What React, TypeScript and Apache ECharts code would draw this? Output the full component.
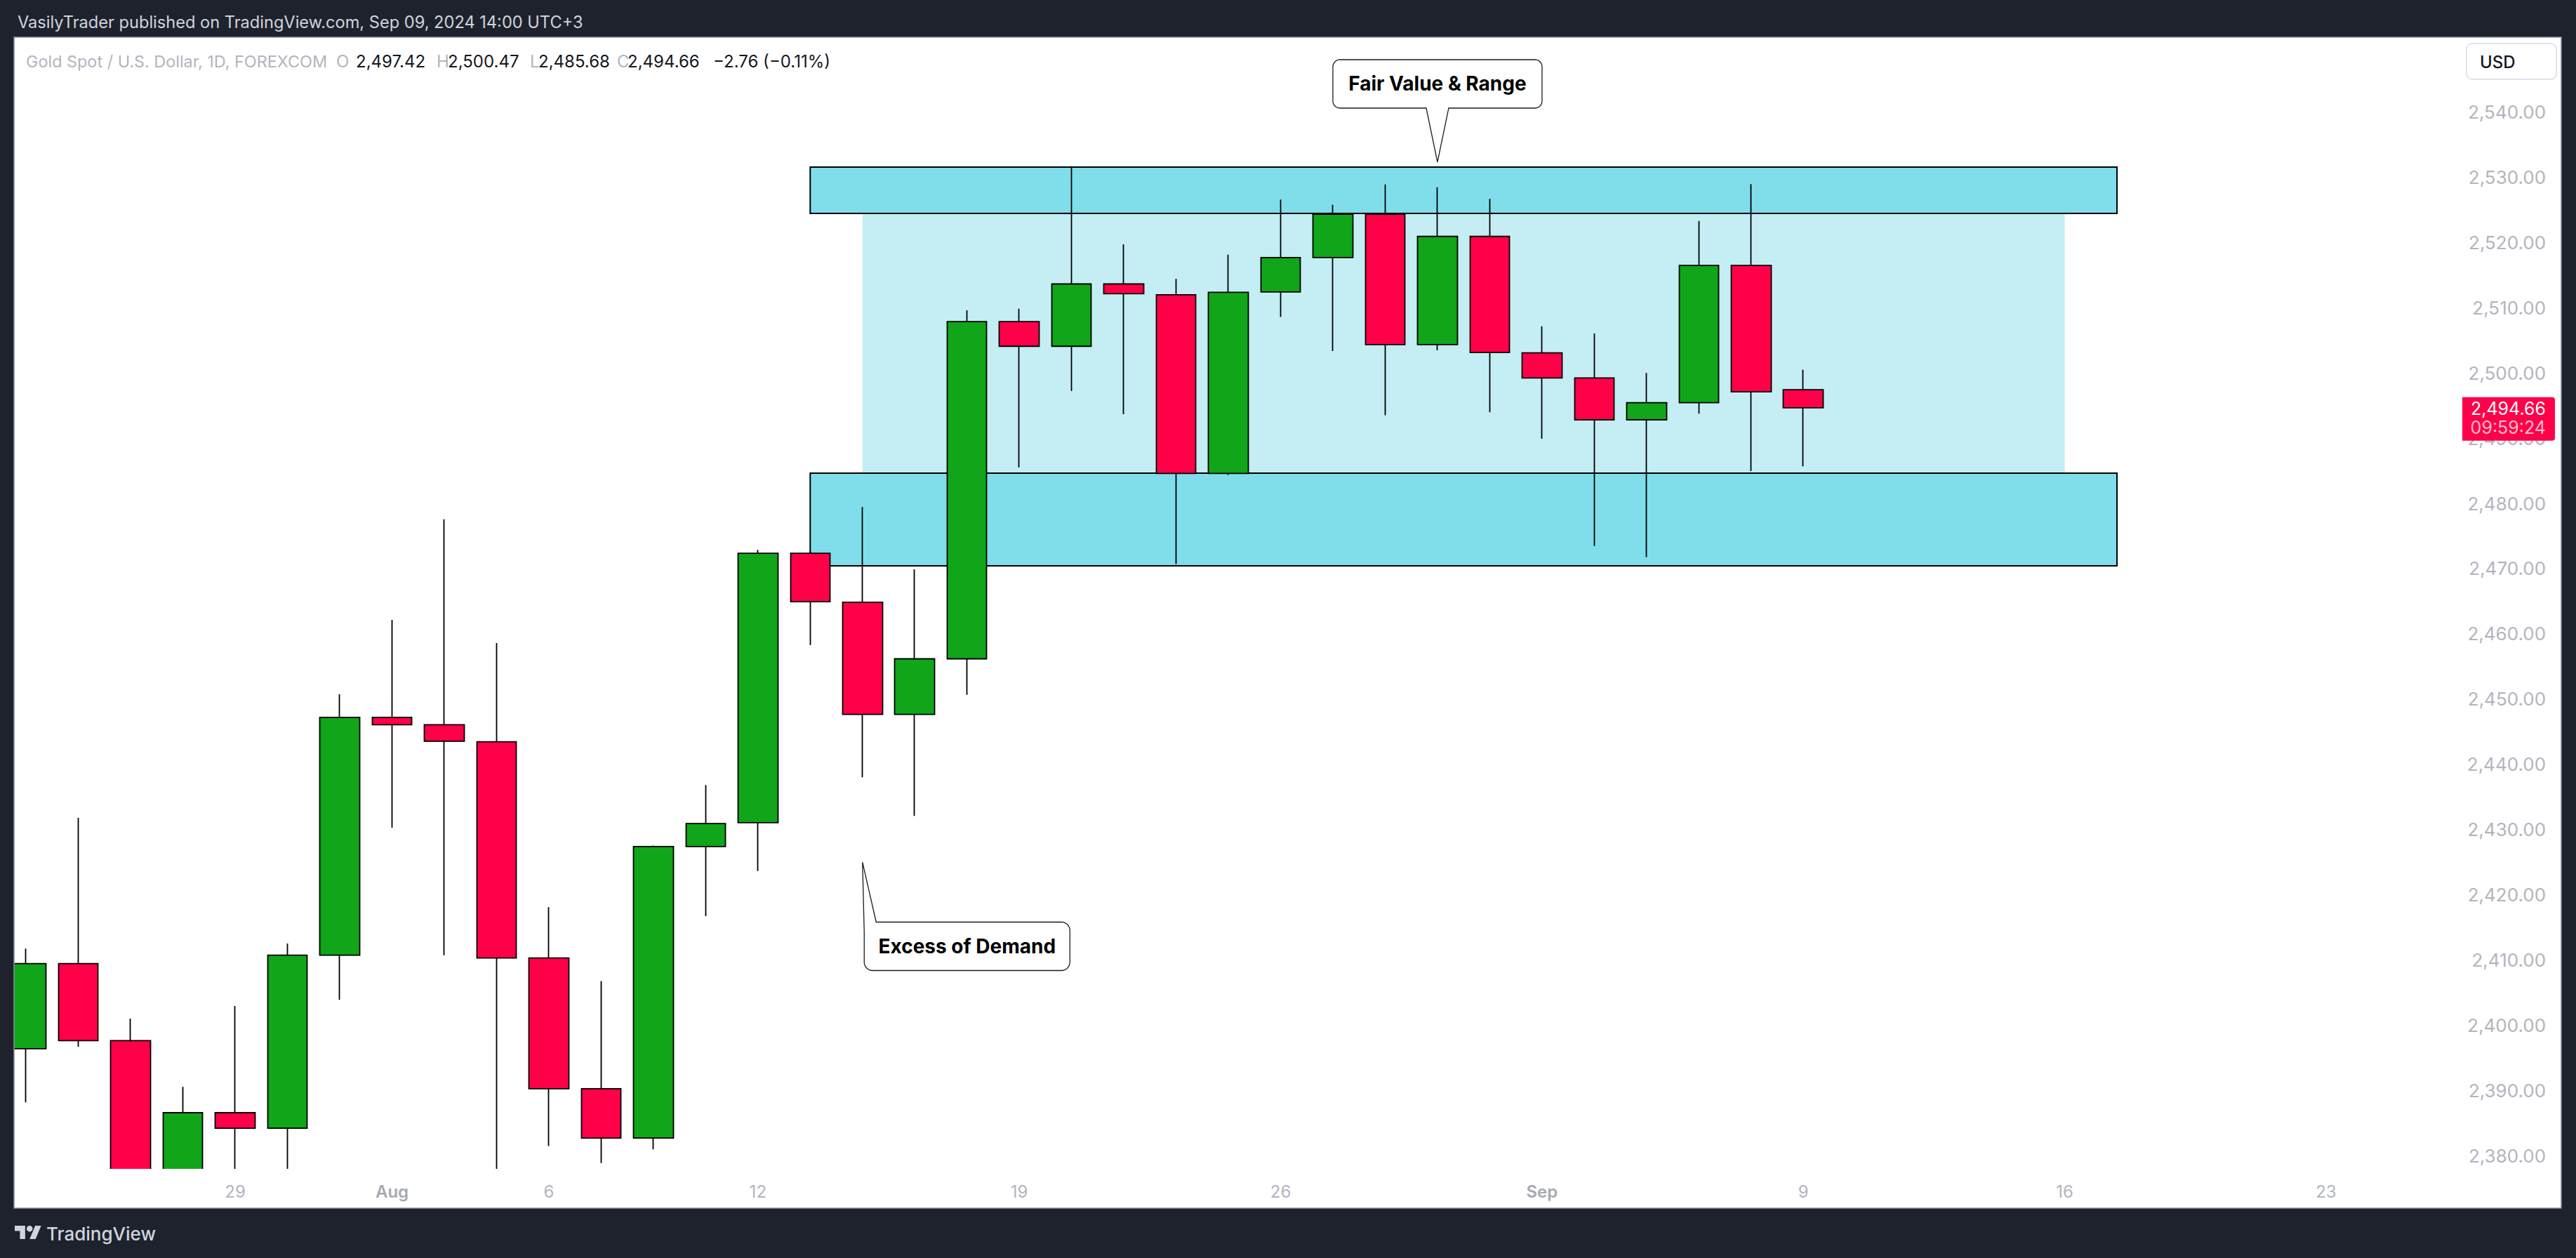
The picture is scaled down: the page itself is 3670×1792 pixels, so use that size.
import React, { useEffect, useRef } from 'react';
import * as echarts from 'echarts';

// ---------- data ----------
const dates = [
  '2024-07-23', '2024-07-24', '2024-07-25', '2024-07-26', '2024-07-29', '2024-07-30', '2024-07-31',
  '2024-08-01', '2024-08-02', '2024-08-05', '2024-08-06', '2024-08-07', '2024-08-08', '2024-08-09',
  '2024-08-12', '2024-08-13', '2024-08-14', '2024-08-15', '2024-08-16', '2024-08-19', '2024-08-20',
  '2024-08-21', '2024-08-22', '2024-08-23', '2024-08-26', '2024-08-27', '2024-08-28', '2024-08-29',
  '2024-08-30', '2024-09-02', '2024-09-03', '2024-09-04', '2024-09-05', '2024-09-06', '2024-09-09',
  '2024-09-10', '2024-09-11', '2024-09-12', '2024-09-13', '2024-09-16', '2024-09-17', '2024-09-18',
  '2024-09-19', '2024-09-20', '2024-09-23', '2024-09-24', '2024-09-25',
];
const opens = [
  2396.41, 2409.45, 2397.64, 2364.6, 2386.61, 2384.23, 2410.75, 2447.21, 2446.06, 2443.47, 2410.32,
  2390.29, 2382.72, 2427.4, 2431.07, 2472.35, 2464.85, 2447.65, 2456.17, 2507.86, 2504.08, 2513.63,
  2511.97, 2484.58, 2512.41, 2517.68, 2524.32, 2504.34, 2520.92, 2503.07, 2499.23, 2492.81, 2495.44,
  2516.47, 2497.42,
];
const closes = [
  2409.45, 2397.64, 2364.6, 2386.61, 2384.23, 2410.75, 2447.21, 2446.06, 2443.54, 2410.32, 2390.29,
  2382.72, 2427.4, 2430.93, 2472.36, 2464.93, 2447.65, 2456.17, 2507.86, 2504.08, 2513.63, 2512.13,
  2484.58, 2512.35, 2517.68, 2524.32, 2504.34, 2520.92, 2503.13, 2499.23, 2492.81, 2495.44, 2516.47,
  2497.09, 2494.66,
];
const highs = [
  2411.76, 2431.79, 2401.02, 2390.57, 2402.97, 2412.55, 2450.75, 2462.13, 2477.55, 2458.6, 2418.1,
  2406.79, 2427.54, 2436.84, 2472.87, 2472.6, 2479.45, 2469.9, 2509.6, 2509.84, 2531.54, 2519.7,
  2514.42, 2518.12, 2526.57, 2525.75, 2528.88, 2528.44, 2526.68, 2507.14, 2506.04, 2500.0, 2523.28,
  2528.93, 2500.47,
];
const lows = [
  2388.2, 2396.7, 2353.5, 2353.6, 2376.5, 2377.0, 2403.91, 2430.28, 2410.75, 2364.5, 2381.49,
  2378.9, 2380.99, 2416.73, 2423.65, 2458.3, 2438.02, 2432.1, 2450.65, 2485.53, 2497.21, 2493.66,
  2470.69, 2484.35, 2508.57, 2503.35, 2493.52, 2503.46, 2493.96, 2489.9, 2473.48, 2471.78, 2493.74,
  2484.96, 2485.68,
];
const xTickDates = [
  '2024-07-29', '2024-08-01', '2024-08-06', '2024-08-12', '2024-08-19',
  '2024-08-26', '2024-09-02', '2024-09-09', '2024-09-16', '2024-09-23',
];
const xTickLabels = ['29', 'Aug', '6', '12', '19', '26', 'Sep', '9', '16', '23'];
const yMin = 2378;
const yMax = 2551.45;
const yLabelLow = 2380;
const yLabelHigh = 2540;

const boxStart = '2024-08-13';
const boxEnd = '2024-09-17';
const fillStart = '2024-08-14';
const fillEnd = '2024-09-16';
const upperBox = [2524.44, 2531.54];
const lowerBox = [2470.42, 2484.63];

const lastPrice = 2494.66;
const countdown = '09:59:24';
const fairValueTip: [string, number] = ['2024-08-29', 2532.3];
const excessTip: [string, number] = ['2024-08-14', 2425.0];

const headerTitle = 'VasilyTrader published on TradingView.com, Sep 09, 2024 14:00 UTC+3';
const symbolTitle = 'Gold Spot / U.S. Dollar, 1D, FOREXCOM';
const ohlcLabels = ['O', 'H', 'L', 'C'];
const ohlcValues = ['2,497.42', '2,500.47', '2,485.68', '2,494.66'];
const changeText = '\u22122.76 (\u22120.11%)';

// ---------- layout / style ----------
const W = 3670;
const H = 1792;
const FONT = 'Inter, "Noto Sans", sans-serif';
const DARK = '#1e222d';
const UP = '#11a51a';
const DOWN = '#ff0049';
const AXIS_GRAY = '#b2b5be';
const PLOT_BOTTOM = 1665;

const fmtPrice = (v: number) =>
  v.toLocaleString('en-US', { minimumFractionDigits: 2, maximumFractionDigits: 2 });

function arcPts(cx: number, cy: number, r: number, a0: number, a1: number, n = 8) {
  const pts: number[][] = [];
  for (let i = 0; i <= n; i++) {
    const a = ((a0 + ((a1 - a0) * i) / n) * Math.PI) / 180;
    pts.push([cx + r * Math.cos(a), cy + r * Math.sin(a)]);
  }
  return pts;
}

let logoRegistered = false;

export default function App() {
  const ref = useRef<HTMLDivElement>(null);

  useEffect(() => {
    if (!logoRegistered) {
      echarts.graphic.registerShape(
        'tvlogo',
        echarts.graphic.extendPath(
          'M14 22H7V11H0V4h14v18zM28 22h-8l7.5-18h8L28 22zM16 8a4 4 0 1 0 8 0a4 4 0 1 0 -8 0z',
          {}
        )
      );
      logoRegistered = true;
    }
    const el = ref.current!;
    const chart = echarts.init(el, null, { renderer: 'svg', width: W, height: H });
    const candleData = opens.map((o, i) => [o, closes[i], lows[i], highs[i]]);

    const option: any = {
      animation: false,
      backgroundColor: '#ffffff',
      grid: { left: 0, right: W - 3500.1, top: 53, bottom: H - PLOT_BOTTOM, containLabel: false },
      xAxis: {
        type: 'category',
        data: dates,
        boundaryGap: true,
        z: 50,
        axisLine: { show: false },
        axisTick: { show: false },
        splitLine: { show: false },
        axisLabel: {
          interval: (_i: number, v: string) => xTickDates.includes(v),
          formatter: (v: string) => {
            const k = xTickDates.indexOf(v);
            if (k < 0) return '';
            const s = xTickLabels[k];
            return /^[A-Za-z]/.test(s) ? `{m|${s}}` : s;
          },
          color: AXIS_GRAY,
          fontSize: 24,
          fontFamily: FONT,
          margin: 32,
          verticalAlign: 'middle',
          rich: { m: { fontWeight: 600, color: '#a6a9b2', fontSize: 24, fontFamily: FONT } },
        },
      },
      yAxis: {
        type: 'value',
        position: 'right',
        min: yMin,
        max: yMax,
        splitNumber: 17,
        z: 50,
        axisLine: { show: false },
        axisTick: { show: false },
        splitLine: { show: false },
        axisLabel: {
          align: 'right',
          margin: 127,
          color: AXIS_GRAY,
          fontSize: 26,
          fontFamily: FONT,
          showMinLabel: false,
          showMaxLabel: false,
          formatter: (v: number) => {
            const r = Math.round(v / 10) * 10;
            if (Math.abs(v - r) > 1e-6) return '';
            if (r < yLabelLow || r > yLabelHigh) return '';
            return fmtPrice(r);
          },
        },
      },
      series: [
        {
          type: 'line',
          data: [],
          z: 1,
          silent: true,
          markArea: {
            silent: true,
            data: [
              [
                { xAxis: fillStart, yAxis: lowerBox[1], itemStyle: { color: '#c5eef4', borderWidth: 0 } },
                { xAxis: fillEnd, yAxis: upperBox[0] },
              ],
              [
                {
                  xAxis: boxStart,
                  yAxis: upperBox[0],
                  itemStyle: { color: '#80deea', borderColor: '#000000', borderWidth: 2 },
                },
                { xAxis: boxEnd, yAxis: upperBox[1] },
              ],
              [
                {
                  xAxis: boxStart,
                  yAxis: lowerBox[0],
                  itemStyle: { color: '#80deea', borderColor: '#000000', borderWidth: 2 },
                },
                { xAxis: boxEnd, yAxis: lowerBox[1] },
              ],
            ],
          },
        },
        {
          type: 'candlestick',
          data: candleData,
          barWidth: 57,
          z: 2,
          clip: true,
          itemStyle: {
            color: UP,
            color0: DOWN,
            borderColor: '#000000',
            borderColor0: '#000000',
            borderWidth: 1.8,
          },
        },
      ],
    };
    chart.setOption(option);

    const px = (d: [string, number]) =>
      chart.convertToPixel({ seriesIndex: 1 }, [dates.indexOf(d[0]), d[1]]) as number[];

    const g: any[] = [];
    const Z = 100;
    // mask below the plot area (candles are cut off at the pane's bottom edge)
    g.push({
      type: 'rect', z: 10,
      shape: { x: 20, y: PLOT_BOTTOM, width: 3629, height: 1721 - PLOT_BOTTOM },
      style: { fill: '#ffffff' },
    });
    // dark frame
    g.push({ type: 'rect', z: Z, shape: { x: 0, y: 0, width: W, height: 53 }, style: { fill: DARK } });
    g.push({ type: 'rect', z: Z, shape: { x: 0, y: 0, width: 20, height: H }, style: { fill: DARK } });
    g.push({ type: 'rect', z: Z, shape: { x: 3649, y: 0, width: W - 3649, height: H }, style: { fill: DARK } });
    g.push({ type: 'rect', z: Z, shape: { x: 0, y: 1721, width: W, height: H - 1721 }, style: { fill: DARK } });
    g.push({
      type: 'rect', z: Z + 1,
      shape: { x: 20, y: 53, width: 3629, height: 1668 },
      style: { fill: 'none', stroke: '#8b8e98', lineWidth: 1.5 },
    });

    // header
    g.push({
      type: 'text', z: Z + 2, x: 25, y: 31.5,
      style: { text: headerTitle, fill: '#d1d4dc', fontSize: 23.6, fontFamily: FONT, verticalAlign: 'middle' },
    });
    g.push({
      type: 'text', z: Z + 2, x: 37, y: 87,
      style: { text: symbolTitle, fill: AXIS_GRAY, fontSize: 23.4, fontFamily: FONT, verticalAlign: 'middle' },
    });
    const labelX = [479, 622, 755, 879];
    const valueX = [507, 638, 767, 894];
    ohlcLabels.forEach((l, i) => {
      g.push({
        type: 'text', z: Z + 2, x: labelX[i], y: 87,
        style: { text: l, fill: AXIS_GRAY, fontSize: 24, fontFamily: FONT, verticalAlign: 'middle' },
      });
      g.push({
        type: 'text', z: Z + 2, x: valueX[i], y: 87,
        style: { text: ohlcValues[i], fill: '#131722', fontSize: 24, fontFamily: FONT, verticalAlign: 'middle' },
      });
    });
    g.push({
      type: 'text', z: Z + 2, x: 1016, y: 87,
      style: { text: changeText, fill: '#131722', fontSize: 24, fontFamily: FONT, verticalAlign: 'middle' },
    });

    // USD button
    g.push({
      type: 'rect', z: Z + 2,
      shape: { x: 3514, y: 62, width: 128, height: 51, r: 8 },
      style: { fill: '#ffffff', stroke: '#e0e3eb', lineWidth: 2 },
    });
    g.push({
      type: 'text', z: Z + 3, x: 3533, y: 88,
      style: { text: 'USD', fill: '#131722', fontSize: 24, fontWeight: 500, fontFamily: FONT, verticalAlign: 'middle' },
    });

    // last price label
    const py = (chart.convertToPixel({ seriesIndex: 1 }, [0, lastPrice]) as number[])[1];
    g.push({
      type: 'rect', z: Z + 2,
      shape: { x: 3508, y: py - 15, width: 132, height: 62, r: [0, 4, 4, 0] },
      style: { fill: DOWN },
    });
    g.push({
      type: 'text', z: Z + 3, x: 3627, y: py + 1.5,
      style: { text: fmtPrice(lastPrice), fill: '#ffffff', fontSize: 25, fontFamily: FONT, align: 'right', verticalAlign: 'middle' },
    });
    g.push({
      type: 'text', z: Z + 3, x: 3627, y: py + 28.5,
      style: { text: countdown, fill: 'rgba(255,255,255,0.75)', fontSize: 25, fontFamily: FONT, align: 'right', verticalAlign: 'middle' },
    });

    // Fair Value & Range callout
    {
      const [tx, ty] = px(fairValueTip);
      const L = tx - 149, R = tx + 149, T = ty - 146, B = ty - 77, r = 10;
      const pts = [
        ...arcPts(L + r, T + r, r, 180, 270),
        ...arcPts(R - r, T + r, r, 270, 360),
        ...arcPts(R - r, B - r, r, 0, 90),
        [tx + 16, B], [tx, ty], [tx - 16, B],
        ...arcPts(L + r, B - r, r, 90, 180),
      ];
      g.push({
        type: 'polygon', z: Z - 5, shape: { points: pts },
        style: { fill: '#ffffff', stroke: '#1a1a1a', lineWidth: 1.3 },
      });
      g.push({
        type: 'text', z: Z - 4, x: tx, y: (T + B) / 2,
        style: { text: 'Fair Value & Range', fill: '#000000', fontSize: 28, fontWeight: 700, fontFamily: FONT, align: 'center', verticalAlign: 'middle' },
      });
    }
    // Excess of Demand callout
    {
      const [ex, ey] = px(excessTip);
      const L = ex + 2.5, R = ex + 295.5, T = ey + 85.3, B = ey + 154.3, r = 12;
      const pts = [
        [ex, ey], [ex + 19.5, T],
        ...arcPts(R - r, T + r, r, 270, 360),
        ...arcPts(R - r, B - r, r, 0, 90),
        ...arcPts(L + r, B - r, r, 90, 180),
        [L, ey + 99.5],
      ];
      g.push({
        type: 'polygon', z: Z - 5, shape: { points: pts },
        style: { fill: '#ffffff', stroke: '#1a1a1a', lineWidth: 1.3 },
      });
      g.push({
        type: 'text', z: Z - 4, x: (L + R) / 2, y: (T + B) / 2,
        style: { text: 'Excess of Demand', fill: '#000000', fontSize: 28, fontWeight: 700, fontFamily: FONT, align: 'center', verticalAlign: 'middle' },
      });
    }

    // TradingView logo
    g.push({
      type: 'tvlogo', z: Z + 2, x: 21, y: 1741.8, scaleX: 1.06, scaleY: 1.06,
      style: { fill: '#d1d4dc' },
    });
    g.push({
      type: 'text', z: Z + 2, x: 66, y: 1757,
      style: { text: 'TradingView', fill: '#d1d4dc', fontSize: 26, fontWeight: 500, fontFamily: FONT, verticalAlign: 'middle' },
    });

    chart.setOption({ graphic: g });

    return () => {
      chart.dispose();
    };
  }, []);

  return (
    <div
      ref={ref}
      style={{ position: 'absolute', left: 0, top: 0, width: W, height: H }}
    />
  );
}
